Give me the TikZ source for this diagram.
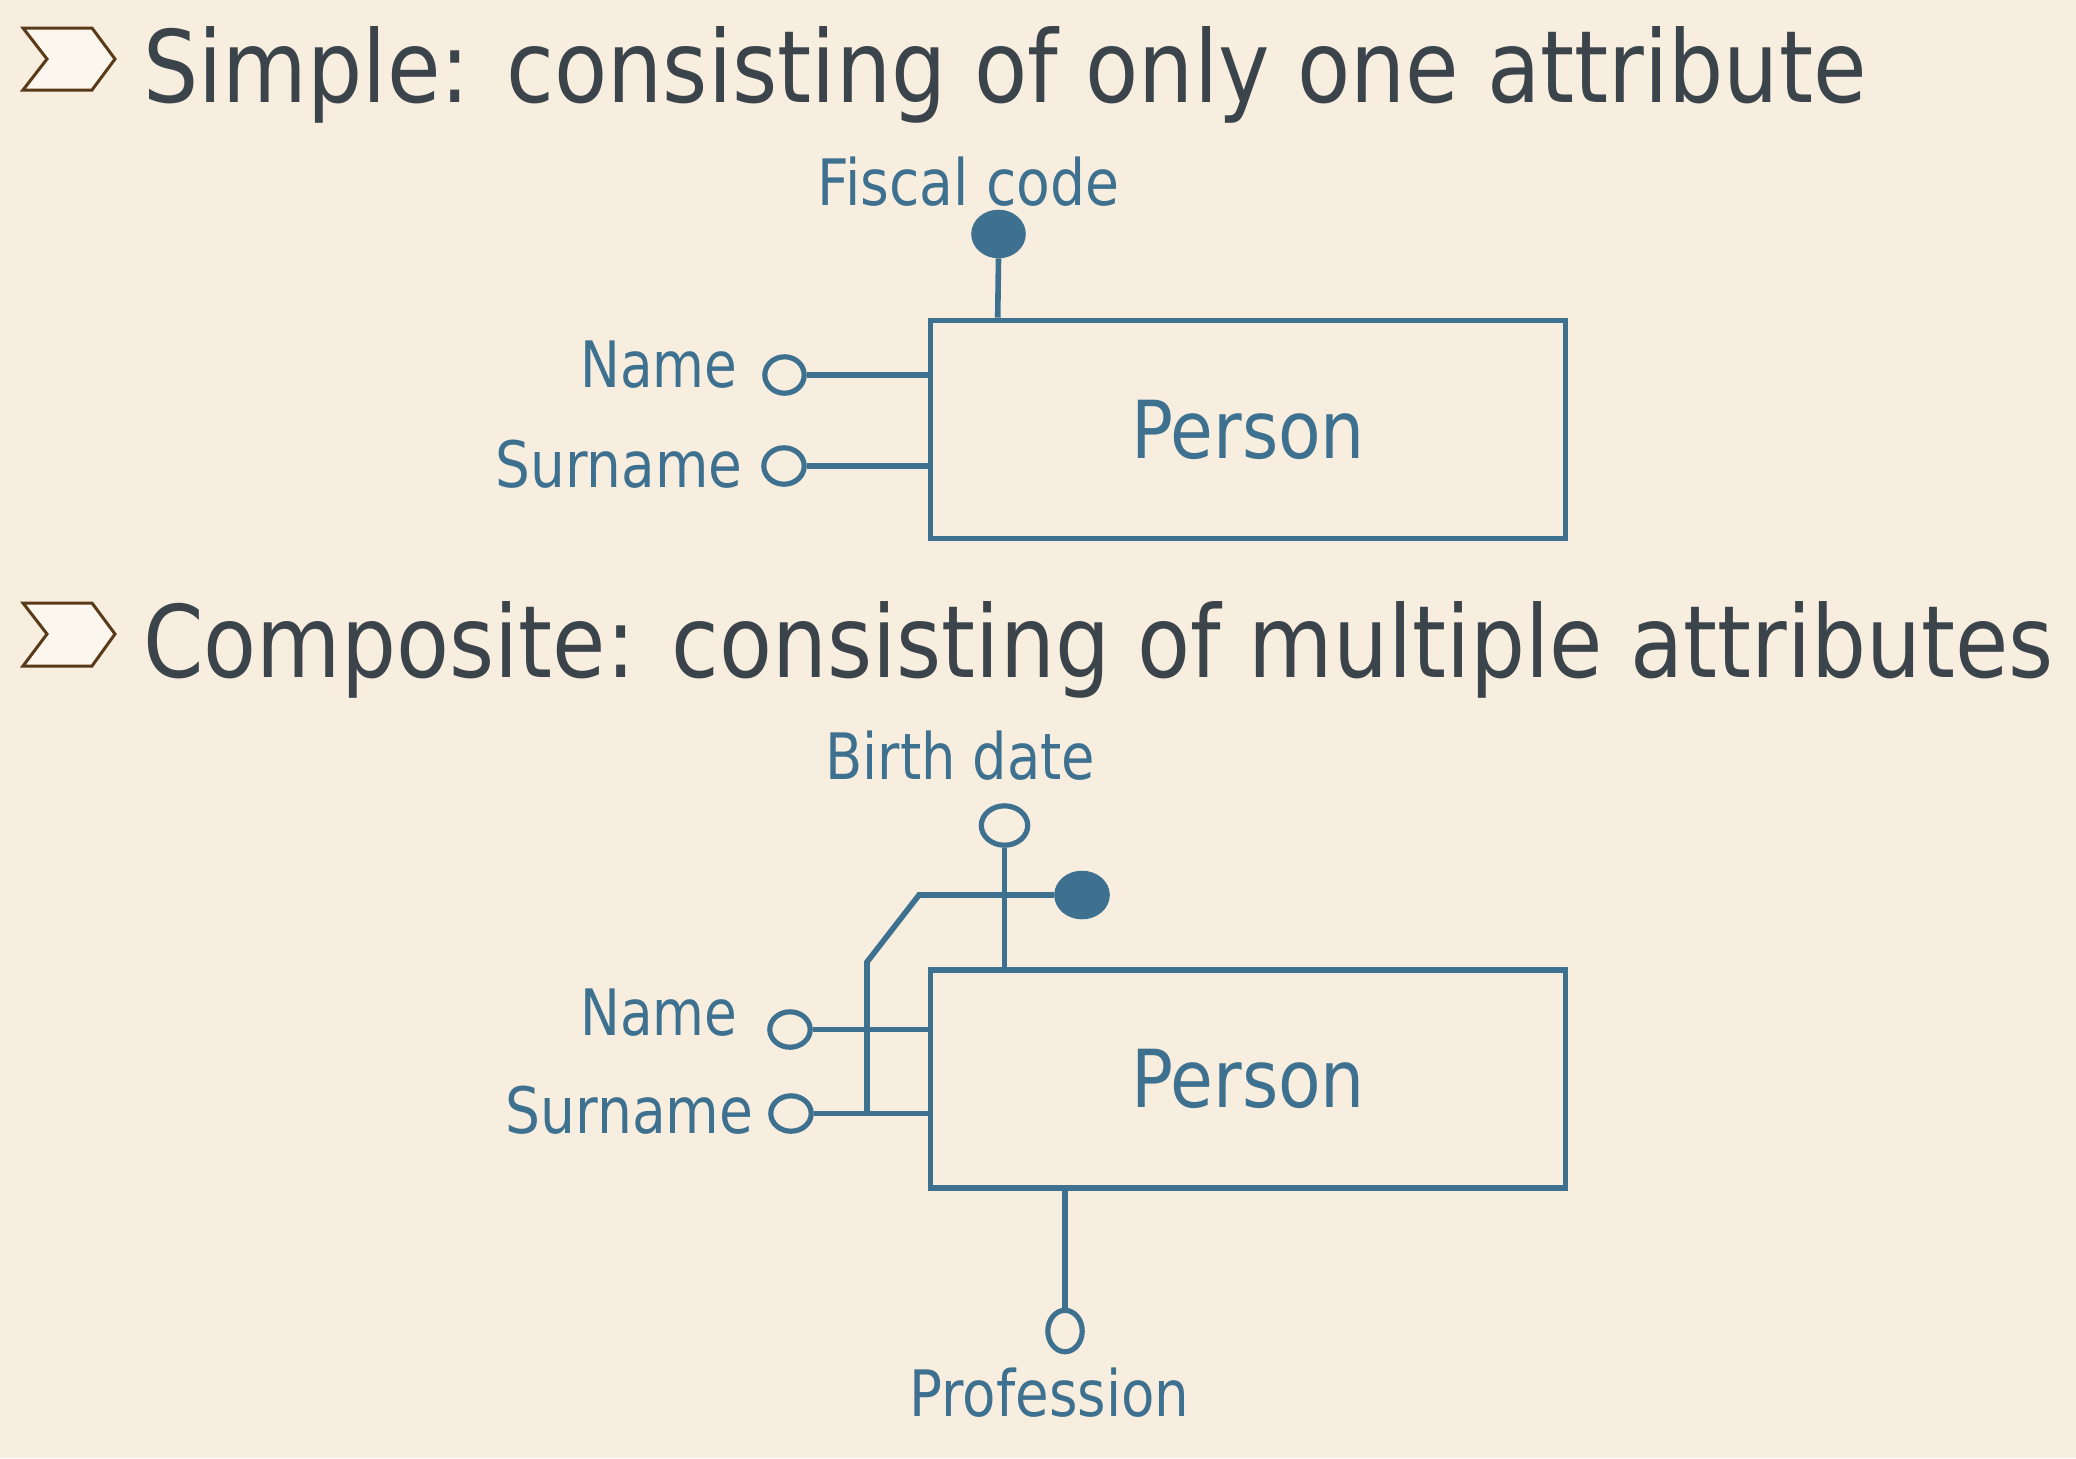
\documentclass[tikz,border=0pt]{standalone}
\usepackage{fontspec}
\usepackage{graphicx}
\setmainfont{DejaVu Sans}
\usetikzlibrary{shapes.geometric}
\definecolor{bgc}{HTML}{F7EEDF}
\definecolor{erblue}{HTML}{3E718F}
\definecolor{titlec}{HTML}{3B444B}
\definecolor{chevfill}{HTML}{FCF7EE}
\definecolor{chevline}{HTML}{5A3A18}
\newsavebox\fitbox
\newcommand\fitto[2]{\sbox\fitbox{#2}\pgfmathsetmacro\fitr{#1/\wd\fitbox}\scalebox{\fitr}[1]{\usebox\fitbox}}
\tikzset{
  titletext/.style={anchor=base west, inner sep=0pt, text=titlec, font=\fontsize{50pt}{60pt}\selectfont},
  labeltext/.style={anchor=base west, inner sep=0pt, text=erblue, font=\fontsize{32pt}{38pt}\selectfont},
  entity/.style={draw=erblue, line width=2.8pt, rectangle, minimum width=317.5pt, minimum height=109pt, inner sep=0pt, text=erblue, font=\fontsize{40pt}{48pt}\selectfont},
  attrib/.style={ellipse, draw=erblue, line width=2.6pt, inner sep=0pt, fill=bgc},
  keyattrib/.style={ellipse, draw=erblue, line width=2.6pt, inner sep=0pt, fill=erblue},
  link/.style={draw=erblue, line width=2.8pt},
  chevron/.style={draw=chevline, fill=chevfill, line width=1.5pt, line join=miter}
}
\begin{document}
\begin{tikzpicture}[x=0.5pt, y=-0.5pt]
\fill[bgc] (0,0) rectangle (2076,1458);
\useasboundingbox (0,0) rectangle (2076,1458);

% --- Simple ---
\draw[chevron] (23,28) -- (92,28) -- (115,59) -- (92,90) -- (23,90) -- (47,59) -- cycle;
\node[titletext] (t1) at (143,102) {\fitto{861.5}{Simple: consisting of only one attribute}};

\node[entity] (p1) at (1248,429.5) {\raisebox{-2pt}{\fitto{117}{Person}}};
\node[keyattrib, minimum width=24.7pt, minimum height=21.7pt] (fcode) at (998.5,234) {};
\node[attrib, minimum width=19.7pt, minimum height=18.2pt] (n1) at (784.5,375) {};
\node[attrib, minimum width=20.2pt, minimum height=18.2pt] (s1) at (784,466) {};
\node[labeltext] (lfcode) at (817,205) {\fitto{151}{Fiscal code}};
\node[labeltext] (ln1) at (580,387) {\fitto{78.5}{Name}};
\node[labeltext] (ls1) at (495,487) {\fitto{123.5}{Surname}};
\draw[link] (fcode.south) -- ([xshift=35pt]p1.north west);
\draw[link] (n1.east) -- (p1.west |- n1.east);
\draw[link] (s1.east) -- (p1.west |- s1.east);

% --- Composite ---
\draw[chevron] (23,603) -- (92,603) -- (115,634) -- (92,666) -- (23,666) -- (47,634) -- cycle;
\node[titletext] (t2) at (143,677) {\fitto{955}{Composite: consisting of multiple attributes}};

\node[entity] (p2) at (1248,1079) {\raisebox{-2pt}{\fitto{117}{Person}}};
\node[attrib, minimum width=23.2pt, minimum height=19.7pt] (bd) at (1004.5,825.5) {};
\node[keyattrib, minimum width=25.2pt, minimum height=21.7pt] (ck) at (1082,895) {};
\node[attrib, minimum width=20.2pt, minimum height=17.7pt] (n2) at (790,1029.5) {};
\node[attrib, minimum width=20.2pt, minimum height=17.7pt] (s2) at (791,1113.5) {};
\node[attrib, minimum width=17.2pt, minimum height=20.7pt] (pr) at (1065,1331) {};
\node[labeltext] (lbd) at (825,779) {\fitto{135}{Birth date}};
\node[labeltext] (ln2) at (580,1035) {\fitto{78.5}{Name}};
\node[labeltext] (ls2) at (505,1133) {\fitto{124}{Surname}};
\node[labeltext] (lpr) at (909,1416) {\fitto{140}{Profession}};

\coordinate (k1) at (919,895);
\coordinate (k2) at (867,962);
\draw[link] (bd.south) -- (bd.south |- p2.north);
\draw[link] (n2.east) -- (p2.west |- n2.east);
\draw[link] (s2.east) -- (p2.west |- s2.east);
\draw[link, line join=miter] (ck.west) -- (k1) -- (k2) -- (k2 |- s2.east);
\draw[link] (pr.north |- p2.south) -- (pr.north);
\end{tikzpicture}
\end{document}
